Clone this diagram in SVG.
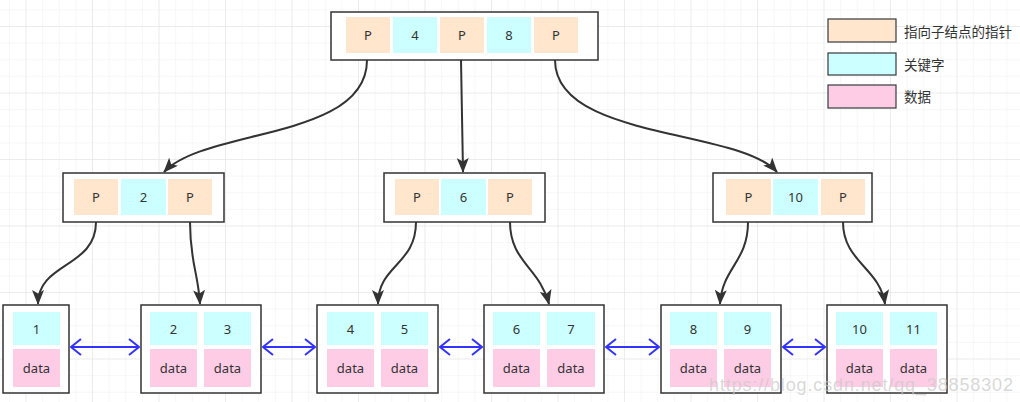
<svg xmlns="http://www.w3.org/2000/svg" width="1020" height="402" viewBox="0 0 1020 402">
<style>
.frame{fill:#ffffff;stroke:#333333;stroke-width:1.5}
.ptr{fill:#ffe6cc}
.key{fill:#ccffff}
.dat{fill:#ffcce6}
.leg{stroke:#36393d;stroke-width:1.2}
.t{font-family:"Noto Sans","Liberation Sans",sans-serif;font-size:13px;fill:#333333;text-anchor:middle;dominant-baseline:central}
.lt{font-family:"Noto Sans CJK SC","Noto Sans",sans-serif;font-size:13.5px;fill:#333333;dominant-baseline:central}
.edge{fill:none;stroke:#333333;stroke-width:2;marker-end:url(#ah)}
.link{fill:none;stroke:#3333ff;stroke-width:2;marker-start:url(#ob);marker-end:url(#ob)}
</style>
<defs>
<pattern id="minor" width="16.625" height="16.625" patternUnits="userSpaceOnUse" x="9.9" y="10.4">
<path d="M16.625,0 V16.625 M0,16.625 H16.625" fill="none" stroke="#f0f0f0" stroke-width="1"/>
</pattern>
<pattern id="major" width="66.5" height="66.5" patternUnits="userSpaceOnUse" x="-40" y="-39.5">
<path d="M66.5,0 V66.5 M0,66.5 H66.5" fill="none" stroke="#e2e2e2" stroke-width="1"/>
</pattern>
<marker id="ah" viewBox="0 0 15 12" refX="14" refY="6" markerWidth="15" markerHeight="12" markerUnits="userSpaceOnUse" orient="auto">
<path d="M0,0 L15,6 L0,12 L3.5,6 Z" fill="#333333"/>
</marker>
<marker id="ob" viewBox="0 0 12 18" refX="11" refY="9" markerWidth="12" markerHeight="18" markerUnits="userSpaceOnUse" orient="auto-start-reverse">
<path d="M1,1 L11,9 L1,17" fill="none" stroke="#3333ff" stroke-width="2"/>
</marker>
</defs>
<rect width="1020" height="402" fill="#ffffff"/>
<rect width="1020" height="402" fill="url(#minor)"/>
<rect width="1020" height="402" fill="url(#major)"/>

<g id="connectors">
<path class="edge" d="M367,60 C367,140 205,128 164,172"/>
<path class="edge" d="M461,60 L463,172"/>
<path class="edge" d="M555,60 C555,140 738,128 777,172"/>
<path class="edge" d="M96,222 C96,268 38,262 38,304"/>
<path class="edge" d="M190,222 C190,262 198,272 200,304"/>
<path class="edge" d="M416,222 C416,265 378,265 378,304"/>
<path class="edge" d="M510,222 C510,262 540,268 549,304"/>
<path class="edge" d="M748,222 C748,262 722,268 720,304"/>
<path class="edge" d="M843,222 C843,262 880,268 885,304"/>
<path class="link" d="M71,347 H139"/>
<path class="link" d="M263,347 H315"/>
<path class="link" d="M440,347 H482"/>
<path class="link" d="M606,347 H659"/>
<path class="link" d="M783,347 H825"/>
</g>

<g id="root">
<rect class="frame" x="331" y="12" width="267" height="48"/>
<rect class="ptr" x="346" y="17" width="44" height="36"/>
<rect class="key" x="393" y="17" width="44" height="36"/>
<rect class="ptr" x="440" y="17" width="44" height="36"/>
<rect class="key" x="487" y="17" width="44" height="36"/>
<rect class="ptr" x="534" y="17" width="44" height="36"/>
<text class="t" x="368" y="35">P</text>
<text class="t" x="415" y="35">4</text>
<text class="t" x="462" y="35">P</text>
<text class="t" x="509" y="35">8</text>
<text class="t" x="556" y="35">P</text>
</g>

<g id="mid-left">
<rect class="frame" x="63" y="173" width="161" height="49"/>
<rect class="ptr" x="74" y="179" width="44" height="36"/>
<rect class="key" x="121" y="179" width="45" height="36"/>
<rect class="ptr" x="168" y="179" width="44" height="36"/>
<text class="t" x="96" y="197">P</text>
<text class="t" x="143.5" y="197">2</text>
<text class="t" x="190" y="197">P</text>
</g>

<g id="mid-center">
<rect class="frame" x="384" y="173" width="161" height="49"/>
<rect class="ptr" x="395" y="179" width="44" height="36"/>
<rect class="key" x="441" y="179" width="45" height="36"/>
<rect class="ptr" x="488" y="179" width="44" height="36"/>
<text class="t" x="417" y="197">P</text>
<text class="t" x="463.5" y="197">6</text>
<text class="t" x="510" y="197">P</text>
</g>

<g id="mid-right">
<rect class="frame" x="713" y="173" width="159" height="49"/>
<rect class="ptr" x="726" y="179" width="45" height="36"/>
<rect class="key" x="773" y="179" width="45" height="36"/>
<rect class="ptr" x="821" y="179" width="44" height="36"/>
<text class="t" x="748.5" y="197">P</text>
<text class="t" x="795.5" y="197">10</text>
<text class="t" x="843" y="197">P</text>
</g>

<g id="leaf1">
<rect class="frame" x="3" y="305" width="66" height="88"/>
<rect class="key" x="13" y="312" width="47" height="33"/>
<rect class="dat" x="13" y="349" width="47" height="38"/>
<text class="t" x="36.5" y="329">1</text>
<text class="t" x="36.5" y="368">data</text>
</g>

<g id="leaf2">
<rect class="frame" x="141" y="305" width="120" height="88"/>
<rect class="key" x="150" y="312" width="47" height="33"/>
<rect class="dat" x="150" y="349" width="47" height="38"/>
<rect class="key" x="204" y="312" width="47" height="33"/>
<rect class="dat" x="204" y="349" width="47" height="38"/>
<text class="t" x="173.5" y="329">2</text>
<text class="t" x="173.5" y="368">data</text>
<text class="t" x="227.5" y="329">3</text>
<text class="t" x="227.5" y="368">data</text>
</g>

<g id="leaf3">
<rect class="frame" x="317" y="305" width="121" height="88"/>
<rect class="key" x="327" y="312" width="47" height="33"/>
<rect class="dat" x="327" y="349" width="47" height="38"/>
<rect class="key" x="381" y="312" width="47" height="33"/>
<rect class="dat" x="381" y="349" width="47" height="38"/>
<text class="t" x="350.5" y="329">4</text>
<text class="t" x="350.5" y="368">data</text>
<text class="t" x="404.5" y="329">5</text>
<text class="t" x="404.5" y="368">data</text>
</g>

<g id="leaf4">
<rect class="frame" x="484" y="305" width="120" height="88"/>
<rect class="key" x="493" y="312" width="47" height="33"/>
<rect class="dat" x="493" y="349" width="47" height="38"/>
<rect class="key" x="547" y="312" width="48" height="33"/>
<rect class="dat" x="547" y="349" width="48" height="38"/>
<text class="t" x="516.5" y="329">6</text>
<text class="t" x="516.5" y="368">data</text>
<text class="t" x="571" y="329">7</text>
<text class="t" x="571" y="368">data</text>
</g>

<g id="leaf5">
<rect class="frame" x="661" y="305" width="120" height="88"/>
<rect class="key" x="670" y="312" width="47" height="33"/>
<rect class="dat" x="670" y="349" width="47" height="38"/>
<rect class="key" x="724" y="312" width="47" height="33"/>
<rect class="dat" x="724" y="349" width="47" height="38"/>
<text class="t" x="693.5" y="329">8</text>
<text class="t" x="693.5" y="368">data</text>
<text class="t" x="747.5" y="329">9</text>
<text class="t" x="747.5" y="368">data</text>
</g>

<g id="leaf6">
<rect class="frame" x="827" y="305" width="120" height="88"/>
<rect class="key" x="836" y="312" width="47" height="33"/>
<rect class="dat" x="836" y="349" width="47" height="38"/>
<rect class="key" x="890" y="312" width="47" height="33"/>
<rect class="dat" x="890" y="349" width="47" height="38"/>
<text class="t" x="859.5" y="329">10</text>
<text class="t" x="859.5" y="368">data</text>
<text class="t" x="913.5" y="329">11</text>
<text class="t" x="913.5" y="368">data</text>
</g>

<g id="legend">
<rect class="ptr leg" x="828" y="19" width="68" height="23"/>
<rect class="key leg" x="828" y="53" width="68" height="22"/>
<rect class="dat leg" x="828" y="85" width="68" height="23"/>
<text class="lt" x="904" y="31">指向子结点的指针</text>
<text class="lt" x="904" y="64">关键字</text>
<text class="lt" x="904" y="96">数据</text>
</g>

<text x="709" y="391" font-family="Liberation Sans, Arial, sans-serif" font-size="18" fill="#c8c8c8" fill-opacity="0.7" textLength="304">https://blog.csdn.net/qq_38858302</text>
</svg>
